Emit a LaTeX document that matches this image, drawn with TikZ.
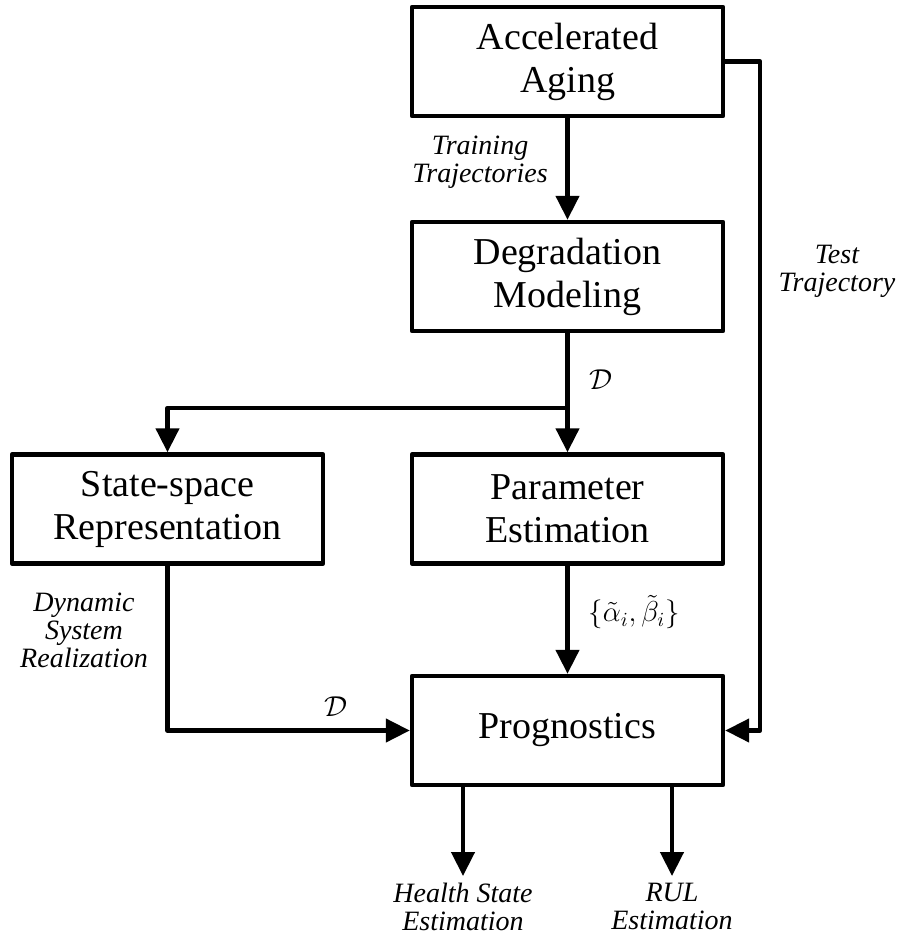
\documentclass[tikz,border=0pt]{standalone}
\usepackage{fontspec}
\setmainfont{Liberation Serif}
\usetikzlibrary{arrows.meta}

\begin{document}
\begin{tikzpicture}[x=0.5pt,y=-0.5pt,
    block/.style={draw, line width=2.2pt, line join=round, minimum width=155.5pt,
        minimum height=54.5pt, align=center, font=\fontsize{19}{21.5}\selectfont},
    lbl/.style={align=center, font=\fontsize{14}{14}\selectfont\itshape},
    mlbl/.style={font=\fontsize{14}{14}\selectfont},
    arr/.style={-{Triangle[length=12pt,width=11.5pt]}, line width=2.2pt, line join=round}]
    \useasboundingbox (0,0) rectangle (900,937);

    % Blocks
    \node [block] (accel) at (567.5,61.5) {Accelerated\\Aging};
    \node [block] (degrad) at (567.5,276.5) {Degradation\\Modeling};
    \node [block] (statesp) at (167.5,509) {State-space\\Representation};
    \node [block] (param) at (567.5,509) {Parameter\\Estimation};
    \node [block] (progn) at (567.5,730.5) {Prognostics};

    % Labels
    \node [lbl] (train) at (480,162) {Training\\Trajectories};
    \node [lbl] (test) at (837,271) {Test\\Trajectory};
    \node [lbl] (dyn) at (84,630) {Dynamic\\System\\Realization};
    \node [mlbl] (dtop) at (601,380) {$\mathcal{D}$};
    \node [mlbl] (dbot) at (336,707) {$\mathcal{D}$};
    \node [mlbl] (ab) at (634,612) {$\{\tilde{\alpha}_i,\tilde{\beta}_i\}$};
    \node [lbl, anchor=north] (health) at (463,876) {Health State\\Estimation};
    \node [lbl, anchor=north] (rul) at (672,876) {RUL\\Estimation};

    \coordinate (split) at (567.5,408);
    \coordinate (bend) at (760,61.5);

    % Connectors
    \draw [arr] (accel) -- (degrad);
    \draw [arr] (degrad) -- (param);
    \draw [arr] (split) -| (statesp);
    \draw [arr] (param) -- (progn);
    \draw [arr] (statesp) |- (progn);
    \draw [arr] (accel.east) -- (bend) |- (progn.east);
    \draw [arr] (progn.south -| health) -- (health.north);
    \draw [arr] (progn.south -| rul) -- (rul.north);
\end{tikzpicture}
\end{document}
